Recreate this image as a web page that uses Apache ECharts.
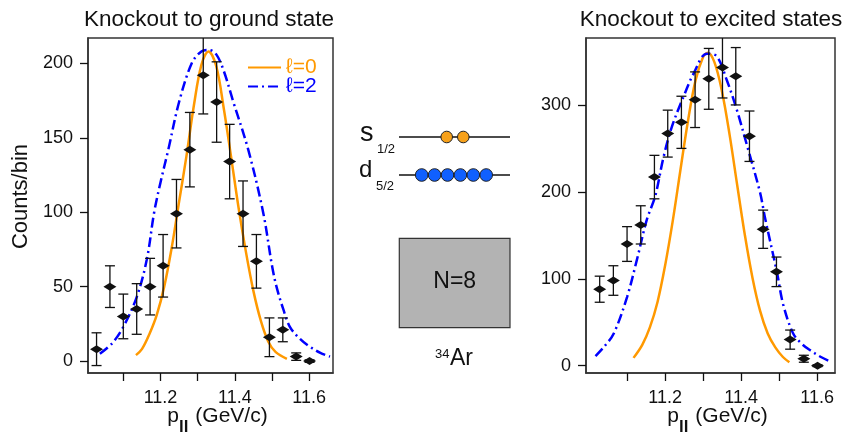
<!DOCTYPE html>
<html><head><meta charset="utf-8">
<script src="https://cdn.jsdelivr.net/npm/echarts@6/dist/echarts.min.js"></script>
<style>html,body{margin:0;padding:0;background:#fff}#c{width:846px;height:434px}</style>
</head><body><div id="c"></div>
<script>
// ---- data ----
const bins = [11.028, 11.064, 11.100, 11.136, 11.172, 11.207, 11.243, 11.279, 11.315, 11.351, 11.386, 11.422, 11.458, 11.493, 11.529, 11.565, 11.601];
const groundCounts = [8, 50, 30, 35, 50, 64, 99, 142, 192, 174, 134, 99, 67, 16, 21, 3, 0];
const groundErr    = [11, 14, 15, 17, 19, 21, 23, 25, 26, 27, 25, 22, 18, 13, 8, 2.5, 0.8];
const excitedCounts = [88, 98, 140, 162, 217, 267, 280, 306, 330, 343, 333, 264, 157, 108, 30, 8, 0];
const excitedErr    = [15, 17, 20, 22, 25, 27, 30, 32, 35, 35, 33, 29, 22, 17, 11, 4, 1];

const groundL0 = [[11.134,4],[11.15,8],[11.17,18],[11.19,31],[11.21,50],[11.23,76],[11.25,107],[11.27,138],[11.29,172],[11.31,199],[11.329,208],[11.35,198],[11.37,170],[11.39,137],[11.41,103],[11.43,73],[11.45,47],[11.47,27],[11.49,13],[11.51,6],[11.54,1.5]];
const groundL2 = [[11.037,5],[11.07,12],[11.10,23],[11.136,43],[11.163,68],[11.183,100],[11.20,120],[11.221,142],[11.25,174],[11.284,200],[11.31,208],[11.33,209],[11.35,206],[11.37,195],[11.396,174],[11.436,142],[11.476,100],[11.50,64],[11.512,50],[11.53,35],[11.548,23],[11.575,15],[11.602,9.6],[11.63,5.5],[11.656,3]];
const excitedL0 = [[11.117,9],[11.14,24],[11.16,44],[11.18,73],[11.20,115],[11.22,166],[11.24,224],[11.26,281],[11.28,328],[11.30,355],[11.312,360],[11.33,349],[11.35,315],[11.37,265],[11.39,207],[11.41,150],[11.43,101],[11.45,63],[11.47,37],[11.49,21],[11.51,10],[11.527,4]];
const excitedL2 = [[11.017,11],[11.04,22],[11.065,37],[11.10,79],[11.126,122],[11.152,168],[11.174,195],[11.196,240],[11.218,275],[11.249,310],[11.275,336],[11.31,359],[11.336,356],[11.362,329],[11.389,294],[11.419,248],[11.45,199],[11.463,170],[11.494,108],[11.511,70],[11.537,37],[11.56,25],[11.581,18],[11.61,10],[11.634,5]];

const xTicks = [11.1, 11.2, 11.3, 11.4, 11.5, 11.6];
const xLabels = [11.2, 11.4, 11.6];
const groundYTicks = [0, 50, 100, 150, 200];
const excitedYTicks = [0, 100, 200, 300];

// ---- styling ----
const FF = '"Liberation Sans", Arial, sans-serif';
const ORANGE = '#ff9900', BLUE = '#0000ff', INK = '#111';
const frame = '#333';

const pts = (c, e) => bins.map((x, i) => [x, c[i], e[i]]);

function errRender(params, api) {
  const x = api.value(0), y = api.value(1), e = api.value(2);
  const hi = api.coord([x, y + e]), lo = api.coord([x, y - e]);
  const w = 5;
  const st = { stroke: INK, lineWidth: 1.3 };
  return { type: 'group', children: [
    { type: 'line', shape: { x1: hi[0], y1: hi[1], x2: lo[0], y2: lo[1] }, style: st },
    { type: 'line', shape: { x1: hi[0] - w, y1: hi[1], x2: hi[0] + w, y2: hi[1] }, style: st },
    { type: 'line', shape: { x1: lo[0] - w, y1: lo[1], x2: lo[0] + w, y2: lo[1] }, style: st }
  ]};
}

const axisNameRich = {
  m: { fontSize: 21, fontFamily: FF, color: INK, lineHeight: 21, verticalAlign: 'top' },
  s: { fontSize: 17, fontWeight: 'bold', fontFamily: FF, color: INK, lineHeight: 30, verticalAlign: 'bottom', padding: [0, 1, 0, 0] }
};

function xAxis(idx, min, max) {
  return {
    type: 'value', gridIndex: idx, min: min, max: max,
    axisLine: { show: true, onZero: false, lineStyle: { color: frame, width: 1.5 } },
    axisTick: { show: true, customValues: xTicks, length: 8, lineStyle: { color: INK, width: 1.3 } },
    axisLabel: { customValues: xLabels, formatter: v => v.toFixed(1), fontSize: 18, color: INK, fontFamily: FF, margin: 16 },
    splitLine: { show: false },
    name: '{m|p}{s|ll}{m| (GeV/c)}', nameLocation: 'middle', nameGap: 33, nameMoveOverlap: false,
    nameTextStyle: { rich: axisNameRich, verticalAlign: 'top', padding: [0, 0, 0, 14] }
  };
}
function yAxis(idx, min, max, ticks, name) {
  return {
    type: 'value', gridIndex: idx, min: min, max: max,
    axisLine: { show: true, onZero: false, lineStyle: { color: frame, width: 1.5 } },
    axisTick: { show: true, customValues: ticks, length: 8, lineStyle: { color: INK, width: 1.3 } },
    axisLabel: { customValues: ticks, fontSize: 18, color: INK, fontFamily: FF, margin: 15 },
    splitLine: { show: false },
    name: name || '', nameLocation: 'middle', nameGap: 56, nameMoveOverlap: false,
    nameTextStyle: { fontSize: 22, color: INK, fontFamily: FF, padding: [0, 0, 0, 18] }
  };
}

const lineS = (name, data, xi, color, type) => ({
  name: name, type: 'line', xAxisIndex: xi, yAxisIndex: xi, data: data,
  smooth: 0.35, symbol: 'none', showSymbol: false, z: 2,
  lineStyle: { color: color, width: 2.5, type: type }, itemStyle: { color: color },
  emphasis: { disabled: true }, animation: false
});
const errS = (c, e, xi) => ({
  type: 'custom', xAxisIndex: xi, yAxisIndex: xi, data: pts(c, e), renderItem: errRender,
  clip: true, z: 3, animation: false, silent: true
});
const markS = (c, xi) => ({
  type: 'scatter', xAxisIndex: xi, yAxisIndex: xi, data: bins.map((x, i) => [x, c[i]]),
  symbol: 'diamond', symbolSize: [13, 8], itemStyle: { color: INK, opacity: 1 }, z: 4, animation: false, silent: true
});

const DASHDOT = [10, 4, 2, 4];

const legendCommon = {
  left: 247, padding: 0, itemWidth: 33, itemHeight: 12, selectedMode: false,
  itemStyle: { opacity: 0, borderWidth: 0 },
  textStyle: { fontSize: 21, fontFamily: FF }
};

const titleStyle = { fontSize: 22.5, fontWeight: 'normal', color: INK, fontFamily: FF };

const option = {
  backgroundColor: '#fff',
  animation: false,
  title: [
    { text: 'Knockout to ground state', left: 209, top: 8, padding: 0, textAlign: 'center', textStyle: titleStyle },
    { text: 'Knockout to excited states', left: 711, top: 8, padding: 0, textAlign: 'center', textStyle: titleStyle }
  ],
  legend: [
    Object.assign({ data: [{ name: 'ℓ=0', textStyle: { color: ORANGE } }], top: 57 }, legendCommon),
    Object.assign({ data: [{ name: 'ℓ=2', textStyle: { color: BLUE } }], top: 76 }, legendCommon)
  ],
  grid: [
    { left: 88, top: 38, width: 245, height: 335, show: true, borderColor: frame, borderWidth: 1.5, backgroundColor: 'transparent', outerBoundsMode: 'none', containLabel: false },
    { left: 586, top: 38, width: 249, height: 335, show: true, borderColor: frame, borderWidth: 1.5, backgroundColor: 'transparent', outerBoundsMode: 'none', containLabel: false }
  ],
  xAxis: [ xAxis(0, 11.005, 11.664), xAxis(1, 10.992, 11.647) ],
  yAxis: [ yAxis(0, -8, 217, groundYTicks, 'Counts/bin'), yAxis(1, -8.4, 377, excitedYTicks) ],
  series: [
    lineS('ℓ=0', groundL0, 0, ORANGE, 'solid'),
    lineS('ℓ=2', groundL2, 0, BLUE, DASHDOT),
    errS(groundCounts, groundErr, 0),
    markS(groundCounts, 0),
    lineS('ℓ=0', excitedL0, 1, ORANGE, 'solid'),
    lineS('ℓ=2', excitedL2, 1, BLUE, DASHDOT),
    errS(excitedCounts, excitedErr, 1),
    markS(excitedCounts, 1)
  ],
  graphic: [
    // shell-model sketch
    { type: 'line', shape: { x1: 399, y1: 137, x2: 510, y2: 137 }, style: { stroke: INK, lineWidth: 1.5 } },
    { type: 'line', shape: { x1: 399, y1: 175, x2: 510, y2: 175 }, style: { stroke: INK, lineWidth: 1.5 } },
    { type: 'circle', shape: { cx: 446.7, cy: 137, r: 5.8 }, style: { fill: '#f7a11a', stroke: '#222', lineWidth: 1 } },
    { type: 'circle', shape: { cx: 463.3, cy: 137, r: 5.8 }, style: { fill: '#f7a11a', stroke: '#222', lineWidth: 1 } },
    ...[421.7, 434.6, 447.5, 460.4, 473.3, 486.2].map(cx => ({
      type: 'circle', shape: { cx: cx, cy: 175, r: 6.3 }, style: { fill: '#1060ff', stroke: '#222', lineWidth: 1 } })),
    { type: 'text', style: { x: 360, y: 134, text: 's', font: '27px ' + FF, fill: INK, verticalAlign: 'middle' } },
    { type: 'text', style: { x: 377, y: 149, text: '1/2', font: '13px ' + FF, fill: INK, verticalAlign: 'middle' } },
    { type: 'text', style: { x: 359, y: 170, text: 'd', font: '24px ' + FF, fill: INK, verticalAlign: 'middle' } },
    { type: 'text', style: { x: 376, y: 186, text: '5/2', font: '13px ' + FF, fill: INK, verticalAlign: 'middle' } },
    { type: 'rect', shape: { x: 399.3, y: 238.3, width: 110.7, height: 89.3 }, style: { fill: '#b3b3b3', stroke: '#333', lineWidth: 1.2 } },
    { type: 'text', style: { x: 454.7, y: 282, text: 'N=8', font: '23px ' + FF, fill: INK, align: 'center', verticalAlign: 'middle' } },
    { type: 'text', style: { x: 435, y: 354, text: '34', font: '13px ' + FF, fill: INK, verticalAlign: 'middle' } },
    { type: 'text', style: { x: 450, y: 358.7, text: 'Ar', font: '23px ' + FF, fill: INK, verticalAlign: 'middle' } }
  ]
};

const chart = echarts.init(document.getElementById('c'), null, { renderer: 'canvas' });
chart.setOption(option);
</script>
</body></html>
